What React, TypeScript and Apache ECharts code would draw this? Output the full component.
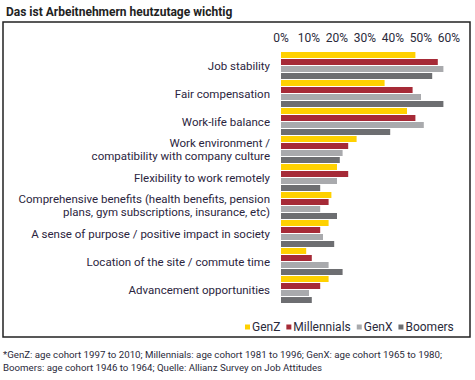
import React, { useEffect, useRef } from "react";
import * as echarts from "echarts";

const categories = [
  "Job stability",
  "Fair compensation",
  "Work-life balance",
  "Work environment /\ncompatibility with company culture",
  "Flexibility to work remotely",
  "Comprehensive benefits (health benefits, pension\nplans, gym subscriptions, insurance, etc)",
  "A sense of purpose / positive impact in society",
  "Location of the site / commute time",
  "Advancement opportunities",
];
const genZ = [48, 37, 45, 27, 20, 18, 17, 9, 17];
const millennials = [56, 47, 48, 24, 24, 17, 14, 11, 14];
const genX = [58, 50, 51, 22, 20, 14, 15, 17, 10];
const boomers = [54, 58, 39, 21, 14, 20, 19, 22, 11];
const xTicks = [0, 10, 20, 30, 40, 50, 60];

const titleText = "Das ist Arbeitnehmern heutzutage wichtig";
const footLines = [
  "*GenZ: age cohort 1997 to 2010; Millennials: age cohort 1981 to 1996; GenX: age cohort 1965 to 1980;",
  "Boomers: age cohort 1946 to 1964; Quelle: Allianz Survey on Job Attitudes",
];

const FONT = "Roboto, 'Noto Sans', sans-serif";
const colors = ["#FFD100", "#A62A37", "#A9AAAD", "#6D6E71"];

export default function App() {
  const ref = useRef<HTMLDivElement>(null);
  useEffect(() => {
    document.body.style.margin = "0";
    const chart = echarts.init(ref.current!, null, { renderer: "svg" });
    const mk = (name: string, data: number[], i: number) => ({
      name,
      type: "bar",
      data,
      barWidth: 6,
      barGap: "17%",
      itemStyle: { color: colors[i] },
    });
    chart.setOption({
      animation: false,
      textStyle: { fontFamily: FONT },
      title: {
        text: titleText,
        left: 1,
        top: 1,
        textStyle: { fontFamily: FONT, fontSize: 12, fontWeight: "bold", color: "#222" },
      },
      legend: {
        left: 240,
        top: 316,
        itemWidth: 5,
        itemHeight: 5,
        itemGap: 6,
        icon: "rect",
        textStyle: { fontFamily: FONT, fontSize: 12, color: "#2a2a3a", padding: [0, 0, 0, -3] },
        data: ["GenZ", "Millennials", "GenX", "Boomers"],
      },
      grid: { left: 281, top: 51.5, width: 168, height: 252 },
      xAxis: {
        type: "value",
        position: "top",
        min: xTicks[0],
        max: xTicks[xTicks.length - 1],
        interval: 10,
        axisLine: { show: false },
        axisTick: { show: false },
        splitLine: { show: false },
        axisLabel: {
          formatter: "{value}%",
          fontSize: 12,
          color: "#2a2a3a",
          margin: 8,
          fontFamily: FONT,
        },
      },
      yAxis: {
        type: "category",
        inverse: true,
        data: categories,
        axisLine: { show: false },
        axisTick: { show: false },
        axisLabel: {
          fontSize: 11.5,
          lineHeight: 13.5,
          color: "#2b2540",
          margin: 11,
          align: "right",
          fontFamily: FONT,
          padding: [0, 0, 6, 0],
        },
      },
      graphic: [
        {
          type: "rect",
          shape: { x: 3, y: 22, width: 467, height: 315 },
          style: { fill: "none", stroke: "#222", lineWidth: 1.5 },
          silent: true,
        },
        ...footLines.map((t, i) => ({
          type: "text",
          left: 3,
          top: 349 + i * 13,
          style: { text: t, fontSize: 9.7, fill: "#2a2a3a", fontFamily: FONT },
        })),
      ],
      series: [
        mk("GenZ", genZ, 0),
        mk("Millennials", millennials, 1),
        mk("GenX", genX, 2),
        mk("Boomers", boomers, 3),
      ],
    });
    return () => chart.dispose();
  }, []);
  return (
    <div
      ref={ref}
      style={{ position: "absolute", left: 0, top: 0, width: 475, height: 380, background: "#fff" }}
    />
  );
}
